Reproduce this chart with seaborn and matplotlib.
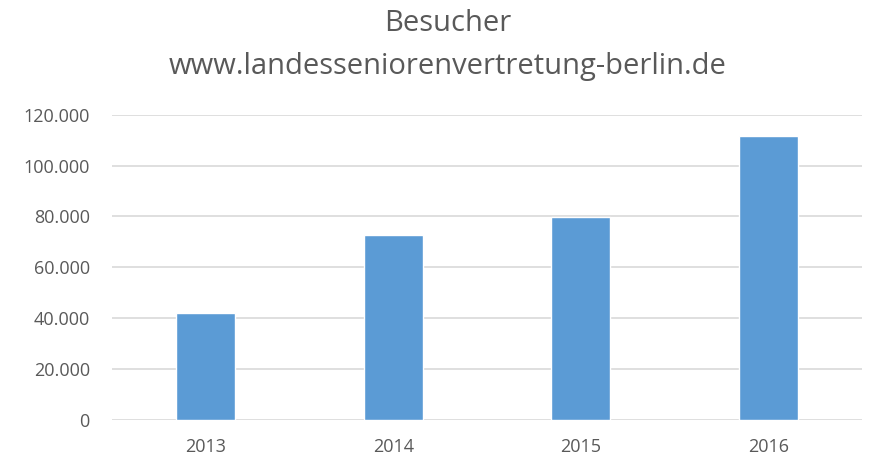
import matplotlib
matplotlib.use("Agg")
import matplotlib.pyplot as plt
from matplotlib.ticker import FuncFormatter
import pandas as pd
import seaborn as sns

years = ["2013", "2014", "2015", "2016"]
visitors = [42000, 72700, 79700, 111600]
yticks = [0, 20000, 40000, 60000, 80000, 100000, 120000]

sns.set_style("white")
plt.rcParams['font.family'] = ['Open Sans', 'DejaVu Sans']

df = pd.DataFrame({'Jahr': years, 'Besucher': visitors})

fig = plt.figure(figsize=(8.69, 4.72), dpi=100)
ax = fig.add_axes([0.1289, 0.110, 0.8631, 0.647])

sns.barplot(data=df, x='Jahr', y='Besucher', color='#5b9bd5', width=0.315,
            saturation=1, ax=ax, zorder=3)

ax.set_ylim(0, 120000)
ax.set_xlim(-0.5, 3.5)
ax.set_yticks(yticks)
ax.yaxis.set_major_formatter(FuncFormatter(lambda v, p: f"{v:,.0f}".replace(",", ".")))
ax.grid(axis='y', color='#d9d9d9', linewidth=1.2, zorder=0)
ax.set_axisbelow(True)
for s in ax.spines.values():
    s.set_visible(False)
ax.tick_params(axis='both', length=0, colors='#595959', labelsize=13)
ax.tick_params(axis='y', pad=16)
ax.tick_params(axis='x', pad=13)
ax.set_xlabel('')
ax.set_ylabel('')

fig.text(0.515, 0.951, "Besucher", ha='center', va='center', fontsize=21, color='#595959')
fig.text(0.515, 0.860, "www.landesseniorenvertretung-berlin.de", ha='center', va='center',
         fontsize=21, color='#595959')

fig.savefig('out.png', dpi=100)
